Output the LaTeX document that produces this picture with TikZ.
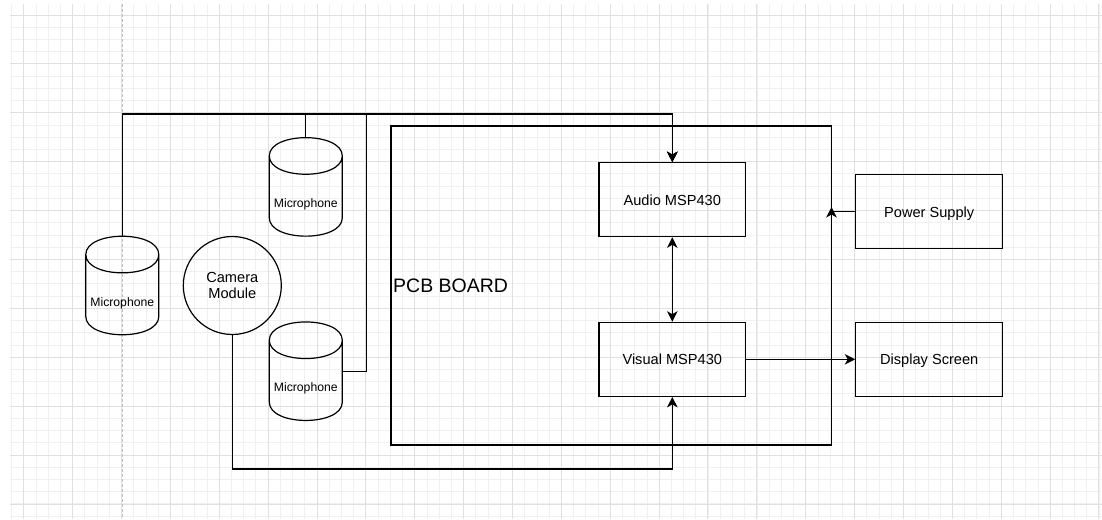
\documentclass[tikz,border=0pt]{standalone}
\usepackage{fontspec}
\setmainfont{Liberation Sans}
\usetikzlibrary{arrows.meta}

\tikzset{
  wire/.style={line width=1.2pt},
  arr/.style={-{Stealth[length=10.5pt,width=10.5pt,inset=3pt]}},
  twoarr/.style={{Stealth[length=10.5pt,width=10.5pt,inset=3pt]}-{Stealth[length=10.5pt,width=10.5pt,inset=3pt]}},
  box/.style={draw, line width=1.2pt, minimum width=146.7pt, minimum height=74pt, inner sep=0pt,
    text height=10.6pt, text depth=0pt, font=\fontsize{14.6}{17.5}\selectfont},
  mic/.style={minimum width=73pt, minimum height=98.5pt, inner sep=0pt,
    label={[font=\fontsize{12.2}{14}\selectfont, yshift=-17.5pt]center:Microphone}},
  gridminor/.style={draw=black!6, line width=0.8pt},
  gridmajor/.style={draw=black!12, line width=0.8pt},
}

% cylinder: name, centre x, centre y
\newcommand{\micshape}[3]{%
  \node[mic] (#1) at (#2,#3) {};
  \draw[wire] ({#2-36.5},{#3-30.95}) .. controls ({#2-36.5},{#3-55.35}) and ({#2+36.5},{#3-55.35}) .. ({#2+36.5},{#3-30.95})
    -- ({#2+36.5},{#3+30.95}) .. controls ({#2+36.5},{#3+55.35}) and ({#2-36.5},{#3+55.35}) .. ({#2-36.5},{#3+30.95}) -- cycle
    ({#2-36.5},{#3-30.95}) .. controls ({#2-36.5},{#3-6.55}) and ({#2+36.5},{#3-6.55}) .. ({#2+36.5},{#3-30.95});
}

\begin{document}
\begin{tikzpicture}[x=1pt,y=1pt,yscale=-1]
\useasboundingbox (0,0) rectangle (1102,519);

%Background grid
\begin{scope}
\clip (9.5,4) rectangle (1102,519);
\foreach \i in {0,...,89} \draw[gridminor] ({11.48+12.22*\i},4) -- ++(0,515);
\foreach \j in {0,...,41} \draw[gridminor] (9.5,{15+12.22*\j}) -- ++(1093,0);
\foreach \i in {0,...,22} \draw[gridmajor] ({23.7+48.87*\i},4) -- ++(0,515);
\foreach \j in {0,...,10} \draw[gridmajor] (9.5,{15+48.9*\j}) -- ++(1093,0);
\draw[black!25, line width=0.8pt, dash pattern=on 3pt off 2pt] (122,4) -- (122,519);
\end{scope}

%Shape: PCB board
\node[draw, line width=1.2pt, minimum width=440.5pt, minimum height=319pt, inner sep=0pt] (pcb) at (611.25,285.5) {};
% Text Node
\node[anchor=west, inner sep=0pt, font=\fontsize{19.5}{23}\selectfont] (pcblabel) at (393,285.5) {PCB BOARD};

%Shape: Rectangles
\node[box] (audio) at (672.3,199.7) {Audio MSP430};
\node[box] (visual) at (672.3,359.3) {Visual MSP430};
\node[box] (power) at (929.2,211.8) {Power Supply};
\node[box] (display) at (929.2,359.3) {Display Screen};

%Shape: Cylinders
\micshape{micL}{122.3}{285.5}
\micshape{micT}{305.8}{186.9}
\micshape{micB}{305.8}{371.2}

%Shape: Circle
\node[draw, circle, minimum size=98pt, inner sep=0pt, line width=1.2pt, align=center, font=\fontsize{14.6}{16.4}\selectfont] (cam) at (232.3,285.5) {Camera\\Module};

%Bend points
\coordinate (topjoin) at (672.3,114);
\coordinate (riseB) at (366.7,114);
\coordinate (camjoin) at (672.3,469);
\coordinate (pcbtip) at (831.5,207);

%Connectors
\draw[wire,arr] (micL.north) |- (topjoin) -- (audio.north);
\draw[wire,arr] (micT.north) |- (topjoin) -- (audio.north);
\draw[wire,arr] (micB.east) -| (riseB) -| (audio.north);
\draw[wire,arr] (cam.south) |- (camjoin) -- (visual.south);
\draw[wire,twoarr] (audio.south) -- (visual.north);
\draw[wire,arr] (visual.east) -- (display.west);
\draw[wire,arr] (power.west) -| (pcbtip);

\end{tikzpicture}
\end{document}
